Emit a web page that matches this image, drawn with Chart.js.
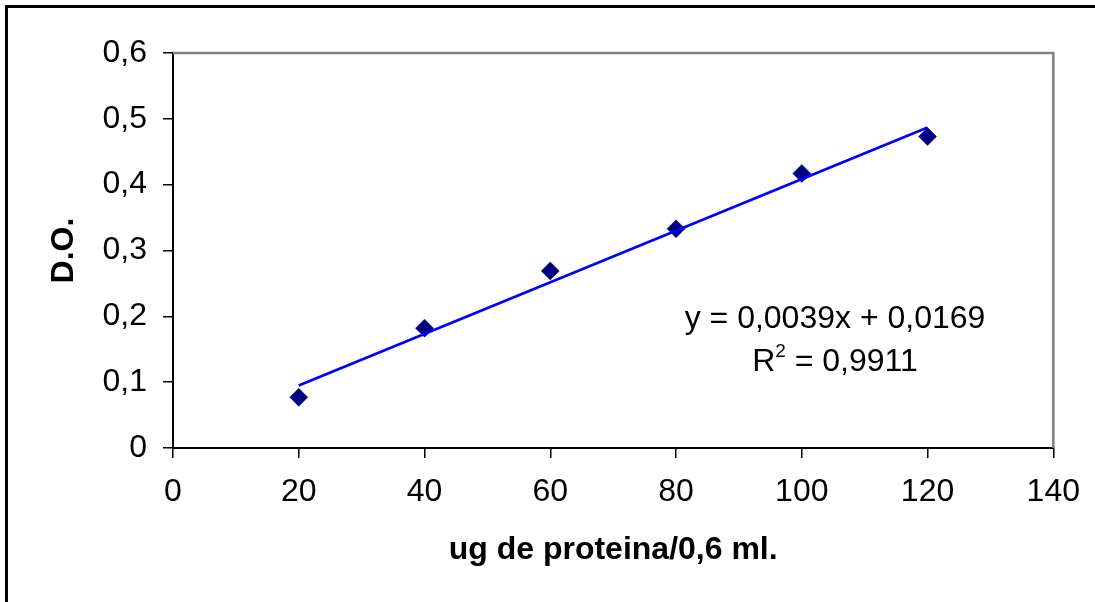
<!DOCTYPE html>
<html>
<head>
<meta charset="utf-8">
<script src="https://cdn.jsdelivr.net/npm/chart.js@4"></script>
<style>
  html, body { margin: 0; padding: 0; background: #fff; }
  #wrap { position: relative; width: 1095px; height: 602px; }
</style>
</head>
<body>
<div id="wrap"><canvas id="chart"></canvas></div>
<script>
// ug de proteina vs D.O. (curva de calibracion)
const proteina = [20, 40, 60, 80, 100, 120];
const densidad = [0.077, 0.182, 0.269, 0.333, 0.417, 0.473];

// linea de tendencia, extremos
const tendenciaX = [20, 120];
const tendenciaY = [0.095, 0.487];

const xTicks = [0, 20, 40, 60, 80, 100, 120, 140];
const xTickLabels = ['0', '20', '40', '60', '80', '100', '120', '140'];
const yTicks = [0, 0.1, 0.2, 0.3, 0.4, 0.5, 0.6];
const yTickLabels = ['0', '0,1', '0,2', '0,3', '0,4', '0,5', '0,6'];

const ecuacion = 'y = 0,0039x + 0,0169';
const r2Texto = ' = 0,9911';

const FUENTE = '"Liberation Sans", Arial, sans-serif';

const marco = {
  id: 'marco',
  beforeDraw(chart) {
    const ctx = chart.ctx;
    ctx.save();
    ctx.fillStyle = '#fff';
    ctx.fillRect(0, 0, chart.width, chart.height);
    // borde exterior (solo izquierda y arriba visibles)
    ctx.strokeStyle = '#000';
    ctx.lineWidth = 3;
    ctx.beginPath();
    ctx.moveTo(6.5, chart.height + 5);
    ctx.lineTo(6.5, 6.5);
    ctx.lineTo(chart.width + 5, 6.5);
    ctx.stroke();
    ctx.restore();
  },
  beforeDatasetsDraw(chart) {
    const {ctx, chartArea: a} = chart;
    ctx.save();
    ctx.strokeStyle = '#808080';
    ctx.lineWidth = 2.5;
    ctx.beginPath();
    ctx.moveTo(a.left, a.top);
    ctx.lineTo(a.right, a.top);
    ctx.lineTo(a.right, a.bottom);
    ctx.stroke();
    ctx.restore();
  },
  afterDatasetsDraw(chart) {
    const ctx = chart.ctx;
    const cx = 835;
    ctx.save();
    ctx.fillStyle = '#000';
    ctx.textBaseline = 'alphabetic';
    ctx.textAlign = 'left';
    ctx.font = '32px ' + FUENTE;
    const w1 = ctx.measureText(ecuacion).width;
    ctx.fillText(ecuacion, cx - w1 / 2, 328);

    const wR = ctx.measureText('R').width;
    const wRest = ctx.measureText(r2Texto).width;
    ctx.font = '19px ' + FUENTE;
    const wSup = ctx.measureText('2').width;
    const x0 = cx - (wR + wSup + wRest) / 2;
    ctx.font = '32px ' + FUENTE;
    ctx.fillText('R', x0, 371);
    ctx.fillText(r2Texto, x0 + wR + wSup, 371);
    ctx.font = '19px ' + FUENTE;
    ctx.fillText('2', x0 + wR, 357);
    ctx.restore();
  }
};

new Chart(document.getElementById('chart'), {
  type: 'scatter',
  data: {
    datasets: [
      {
        label: 'datos',
        data: proteina.map((p, i) => ({x: p, y: densidad[i]})),
        pointStyle: 'rectRot',
        pointRadius: 9,
        backgroundColor: '#000080',
        borderColor: '#000080',
        borderWidth: 0.5,
        order: 2
      },
      {
        label: 'tendencia',
        data: tendenciaX.map((t, i) => ({x: t, y: tendenciaY[i]})),
        showLine: true,
        pointRadius: 0,
        borderColor: '#0000ff',
        borderWidth: 2.7,
        order: 1
      }
    ]
  },
  options: {
    responsive: true,
    maintainAspectRatio: false,
    animation: false,
    layout: { padding: { top: 53, right: 37, left: 0, bottom: 0 } },
    plugins: { legend: { display: false }, tooltip: { enabled: false } },
    scales: {
      x: {
        type: 'linear',
        min: 0,
        max: 140,
        afterBuildTicks: s => { s.ticks = xTicks.map(v => ({value: v})); },
        afterFit: s => { s.height = 154; },
        ticks: {
          callback: (v, i) => xTickLabels[i],
          color: '#000',
          padding: 15,
          maxRotation: 0,
          font: { family: FUENTE, size: 32 }
        },
        grid: { drawOnChartArea: false, drawTicks: true, tickLength: 10, color: '#000', lineWidth: 1.5 },
        border: { display: true, color: '#000', width: 2 },
        title: {
          display: true,
          text: 'ug de proteina/0,6 ml.',
          color: '#000',
          font: { family: FUENTE, size: 32, weight: 'bold' },
          padding: { top: 0, bottom: 33 }
        }
      },
      y: {
        type: 'linear',
        min: 0,
        max: 0.6,
        afterBuildTicks: s => { s.ticks = yTicks.map(v => ({value: v})); },
        afterFit: s => { s.width = 173; },
        ticks: {
          callback: (v, i) => yTickLabels[i],
          color: '#000',
          padding: 16,
          font: { family: FUENTE, size: 32 }
        },
        grid: { drawOnChartArea: false, drawTicks: true, tickLength: 10, color: '#000', lineWidth: 1.5 },
        border: { display: true, color: '#000', width: 2 },
        title: {
          display: true,
          text: 'D.O.',
          color: '#000',
          font: { family: FUENTE, size: 32, weight: 'bold' },
          padding: { top: 45, bottom: 0 }
        }
      }
    }
  },
  plugins: [marco]
});
</script>
</body>
</html>
